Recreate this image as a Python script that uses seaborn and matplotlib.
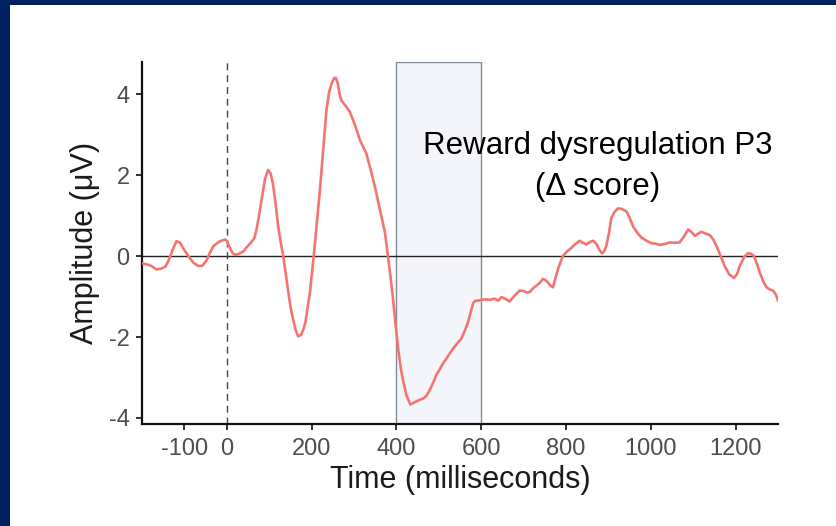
import matplotlib
matplotlib.use("Agg")
import matplotlib.pyplot as plt
import seaborn as sns
import pandas as pd
from matplotlib.patches import Rectangle

# Difference waveform (reward minus non-reward), in ms and microvolts
time_ms = [
    -200, -190, -178, -166, -155, -145, -138, -128, -119, -110, -103, -92, -79, -68, -58,
    -48, -40, -32, -16, -4, 0, 7, 14, 20, 31, 40, 46, 58, 65, 70, 76, 82, 90, 97, 103,
    109, 115, 121, 127, 133, 139, 145, 151, 156, 162, 168, 175, 181, 186, 191, 196, 201,
    205, 212, 219, 227, 235, 241, 247, 253, 257, 262, 266, 270, 280, 290, 302, 314, 329,
    339, 349, 361, 373, 380, 386, 392, 398, 404, 410, 416, 424, 433, 440, 447, 455, 463,
    471, 479, 487, 494, 502, 510, 518, 526, 540, 553, 561, 569, 575, 581, 587, 593, 600,
    612, 620, 632, 640, 648, 656, 667, 675, 683, 691, 700, 707, 714, 722, 730, 738, 746,
    755, 763, 769, 775, 781, 787, 793, 803, 813, 822, 832, 840, 848, 856, 864, 872, 879,
    885, 890, 895, 901, 907, 915, 923, 931, 943, 950, 958, 968, 978, 990, 1001, 1011,
    1021, 1033, 1045, 1057, 1068, 1078, 1088, 1096, 1104, 1112, 1119, 1129, 1139, 1147,
    1155, 1165, 1174, 1185, 1196, 1203, 1210, 1220, 1229, 1236, 1243, 1250, 1257, 1265,
    1273, 1280, 1288, 1295, 1300,
]
amplitude_uv = [
    -0.18, -0.20, -0.24, -0.33, -0.31, -0.26, -0.12, 0.15, 0.37, 0.33, 0.20, 0.02, -0.16,
    -0.24, -0.24, -0.11, 0.08, 0.25, 0.37, 0.41, 0.38, 0.21, 0.07, 0.03, 0.07, 0.13, 0.21,
    0.35, 0.45, 0.66, 1.00, 1.40, 1.90, 2.13, 2.05, 1.78, 1.30, 0.74, 0.35, 0.01, -0.45,
    -0.89, -1.30, -1.55, -1.82, -1.98, -1.95, -1.80, -1.60, -1.25, -0.89, -0.40, 0.00,
    0.80, 1.56, 2.60, 3.61, 4.05, 4.26, 4.40, 4.41, 4.26, 4.00, 3.85, 3.72, 3.57, 3.25,
    2.87, 2.54, 2.15, 1.73, 1.15, 0.58, 0.00, -0.50, -1.06, -1.70, -2.28, -2.75, -3.10,
    -3.45, -3.67, -3.63, -3.59, -3.55, -3.52, -3.45, -3.30, -3.12, -2.94, -2.80, -2.65,
    -2.53, -2.40, -2.20, -2.04, -1.85, -1.63, -1.40, -1.16, -1.10, -1.10, -1.08, -1.07,
    -1.08, -1.05, -1.10, -1.01, -1.05, -1.12, -1.02, -0.93, -0.85, -0.86, -0.90, -0.89,
    -0.80, -0.73, -0.66, -0.56, -0.62, -0.72, -0.77, -0.55, -0.32, -0.15, 0.01, 0.12,
    0.21, 0.30, 0.38, 0.33, 0.29, 0.35, 0.38, 0.30, 0.15, 0.07, 0.12, 0.25, 0.55, 0.95,
    1.10, 1.18, 1.17, 1.10, 0.95, 0.74, 0.58, 0.46, 0.38, 0.32, 0.31, 0.28, 0.30, 0.34,
    0.33, 0.34, 0.48, 0.66, 0.60, 0.50, 0.56, 0.60, 0.56, 0.52, 0.42, 0.25, 0.00, -0.24,
    -0.45, -0.54, -0.45, -0.24, -0.02, 0.07, 0.06, 0.01, -0.18, -0.40, -0.62, -0.77,
    -0.82, -0.85, -0.95, -1.10,
]

x_ticks = [-100, 0, 200, 400, 600, 800, 1000, 1200]
y_ticks = [-4, -2, 0, 2, 4]
window_ms = [400, 600]
annotation = "Reward dysregulation P3\n(\u0394 score)"

sns.set_theme(style="ticks")
plt.rcParams["font.family"] = ["Liberation Sans", "DejaVu Sans"]
plt.rcParams["axes.unicode_minus"] = False

fig = plt.figure(figsize=(8.37, 5.26), dpi=100)
fig.patch.set_facecolor("white")
ax = fig.add_axes([0.1697, 0.1939, 0.9295 - 0.1697, 0.8821 - 0.1939])

# slide frame
navy = "#002060"
fig.patches.append(Rectangle((0, 1 - 5 / 526), 1, 5 / 526, transform=fig.transFigure,
                             facecolor=navy, edgecolor="none", zorder=10))
fig.patches.append(Rectangle((0, 0), 10 / 837, 1, transform=fig.transFigure,
                             facecolor=navy, edgecolor="none", zorder=10))

ymin, ymax = -4.15, 4.8
ax.set_xlim(-200, 1300)
ax.set_ylim(ymin, ymax)

# scoring window
ax.add_patch(Rectangle((window_ms[0], ymin), window_ms[1] - window_ms[0], ymax - ymin,
                       facecolor="#F4F5FA", edgecolor="#7F8A9C", linewidth=1.0, zorder=0))

ax.axhline(0, color="#222222", linewidth=1.0, zorder=1)
ax.axvline(0, color="#444444", linewidth=1.0, linestyle=(0, (5, 3.5)), zorder=1)

df = pd.DataFrame({"time": time_ms, "amp": amplitude_uv})
sns.lineplot(data=df, x="time", y="amp", ax=ax, color="#F47470", linewidth=1.9,
             zorder=3, sort=False)

ax.text(875, 2.22, annotation, ha="center", va="center", fontsize=22.5,
        color="black", linespacing=1.5)

ax.set_xticks(x_ticks)
ax.set_yticks(y_ticks)
ax.tick_params(axis="both", labelsize=17, labelcolor="#4D4D4D", color="#222222",
               length=4, width=1.3)
ax.tick_params(axis="x", pad=6)
ax.tick_params(axis="y", pad=5)
for side in ("top", "right"):
    ax.spines[side].set_visible(False)
for side in ("left", "bottom"):
    ax.spines[side].set_color("#111111")
    ax.spines[side].set_linewidth(1.6)

ax.set_xlabel("Time (milliseconds)", fontsize=22, color="#1A1A1A", labelpad=4)
ax.set_ylabel("Amplitude (\u03bcV)", fontsize=22, color="#1A1A1A", labelpad=6)

fig.savefig("out.png", dpi=100, facecolor="white")
